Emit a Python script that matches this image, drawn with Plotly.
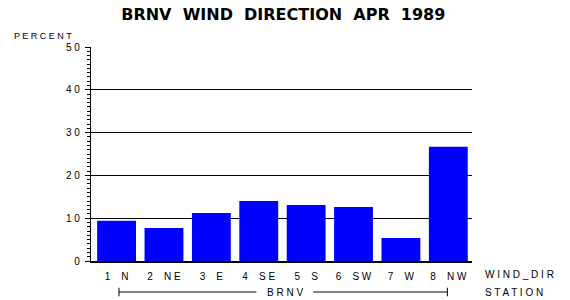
import plotly.graph_objects as go

NB = "\u00a0"

categories = ["1 N", "2 NE", "3 E", "4 SE", "5 S", "6 SW", "7 W", "8 NW"]
tick_labels = ["1" + NB * 4 + "N", "2" + NB * 4 + "N" + NB + "E", "3" + NB * 4 + "E",
               "4" + NB * 4 + "S" + NB + "E", "5" + NB * 4 + "S", "6" + NB * 4 + "S" + NB + "W",
               "7" + NB * 4 + "W", "8" + NB * 4 + "N" + NB + "W"]
percent = [9.4, 7.7, 11.2, 14.0, 13.1, 12.6, 5.4, 26.7]
y_ticks = [0, 10, 20, 30, 40, 50]
y_tick_labels = ["0", "1 0", "2 0", "3 0", "4 0", "5 0"]
station = "B R N V"
title = ("BRNV" + NB * 2 + "WIND" + NB * 2 + "DIRECTION" + NB * 2 + "APR" + NB * 2 + "1989")

FONT = "Liberation Sans"

fig = go.Figure()
fig.add_trace(go.Bar(
    x=list(range(len(categories))), y=percent,
    marker=dict(color="#0000FF", line=dict(width=0)),
    width=0.82, hoverinfo="skip",
))

fig.update_layout(
    width=570, height=300,
    margin=dict(l=91, r=98, t=47, b=39),
    paper_bgcolor="white", plot_bgcolor="white",
    showlegend=False,
    font=dict(family=FONT, size=10, color="black"),
    title=dict(text="<b>" + title + "</b>",
               x=0.497, xanchor="center", y=0.952, yanchor="middle",
               font=dict(family="DejaVu Sans", size=16, color="black")),
)

fig.update_xaxes(
    range=[-0.54, 7.5], tickvals=list(range(len(categories))),
    ticktext=tick_labels, showgrid=False, zeroline=False,
    showline=True, linecolor="black", linewidth=1.5, ticks="",
    tickfont=dict(family=FONT, size=10, color="black"),
    ticklabelstandoff=5,
)
fig.update_yaxes(
    range=[0, 50], tickvals=y_ticks, ticktext=y_tick_labels,
    showgrid=True, gridcolor="black", gridwidth=1.2,
    zeroline=False, showline=True, linecolor="black", linewidth=1.2,
    ticks="outside", ticklen=5, tickcolor="black", tickwidth=1,
    minor=dict(dtick=1, ticks="outside", ticklen=3, tickcolor="black", showgrid=False),
    tickfont=dict(family=FONT, size=10, color="black"),
    ticklabelstandoff=3,
)

# Axis titles
fig.add_annotation(text="P E R C E N T", xref="paper", yref="paper",
                   x=-0.125, y=1.05, xanchor="center", yanchor="middle",
                   showarrow=False, font=dict(family=FONT, size=9))
fig.add_annotation(text="W I N D _ D I R", xref="paper", yref="paper",
                   x=1.028, y=-0.063, xanchor="left", yanchor="middle",
                   showarrow=False, font=dict(family=FONT, size=10))
fig.add_annotation(text="S T A T I O N", xref="paper", yref="paper",
                   x=1.028, y=-0.147, xanchor="left", yanchor="middle",
                   showarrow=False, font=dict(family=FONT, size=10))

# Station bracket spanning all categories
n = len(categories)
mid = (n - 1) / 2
fig.add_annotation(text=station, xref="x", yref="paper",
                   x=mid + 0.05, y=-0.147, xanchor="center", yanchor="middle",
                   showarrow=False, font=dict(family=FONT, size=10))
yb = -0.145
x_left, x_right = 0.05, n - 1.02
for x0, x1 in [(x_left, mid - 0.55), (mid + 0.65, x_right)]:
    fig.add_shape(type="line", xref="x", yref="paper", x0=x0, x1=x1, y0=yb, y1=yb,
                  line=dict(color="black", width=1))
for xe in [x_left, x_right]:
    fig.add_shape(type="line", xref="x", yref="paper", x0=xe, x1=xe, y0=yb - 0.02, y1=yb + 0.02,
                  line=dict(color="black", width=1))

fig.write_html("out.html")
